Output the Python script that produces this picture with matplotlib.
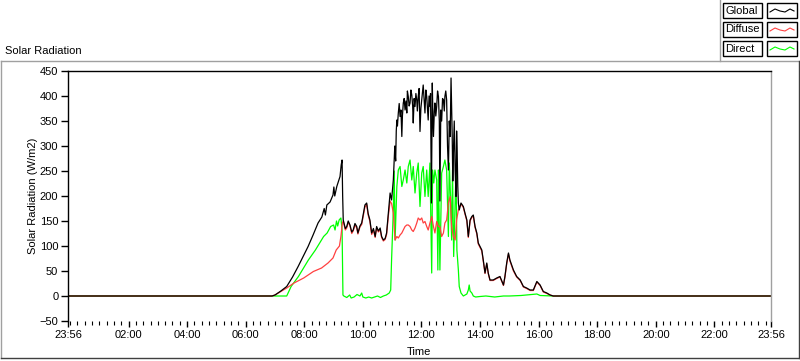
import matplotlib
matplotlib.use("Agg")
import matplotlib.pyplot as plt
from matplotlib.lines import Line2D
from matplotlib.patches import Rectangle

plt.rcParams['font.family'] = ['Liberation Sans', 'DejaVu Sans']
plt.rcParams['font.size'] = 8

# time in hours after midnight, axis runs 23:56 -> 23:56
t_start = -4 / 60
t_end = 24 - 4 / 60

# global radiation, split in morning / noon / afternoon parts
global_am_t = [t_start, 6.90, 7.00, 7.20, 7.40, 7.60, 7.79, 7.95, 8.13, 8.30, 8.47, 8.60, 8.68, 8.72, 8.77,
               8.88, 8.98, 9.01, 9.04, 9.11, 9.22, 9.26, 9.29, 9.31, 9.33, 9.40, 9.45, 9.50, 9.56, 9.62,
               9.67, 9.73, 9.79, 9.83, 9.90, 9.96, 10.02, 10.07, 10.13, 10.18, 10.24, 10.30, 10.36, 10.42,
               10.47, 10.53, 10.59, 10.64, 10.70, 10.76, 10.81, 10.87, 10.93, 10.98]
global_am_v = [0, 0, 2, 10, 19, 38, 59, 78, 99, 122, 146, 158, 175, 162, 182,
               188, 202, 218, 200, 219, 239, 262, 272, 200, 152, 135, 139, 150, 142, 128,
               132, 145, 139, 126, 140, 146, 165, 182, 186, 165, 152, 126, 135, 119,
               139, 130, 136, 119, 112, 115, 126, 166, 206, 192]

global_noon_t = [11.04, 11.07, 11.09, 11.10, 11.12, 11.14, 11.16, 11.18, 11.21, 11.24,
                 11.27, 11.30, 11.33, 11.35, 11.38, 11.41, 11.44, 11.47, 11.50, 11.52,
                 11.55, 11.58, 11.61, 11.64, 11.67, 11.70, 11.72, 11.75, 11.78, 11.81,
                 11.84, 11.86, 11.89, 11.92, 11.95, 11.98, 12.01, 12.03, 12.06, 12.09,
                 12.12, 12.15, 12.18, 12.20, 12.23, 12.26, 12.29, 12.31, 12.34, 12.37,
                 12.39, 12.41, 12.44, 12.46, 12.49, 12.52, 12.55, 12.58, 12.61, 12.63,
                 12.66, 12.69, 12.72, 12.75, 12.78, 12.80, 12.83, 12.86, 12.89, 12.92,
                 12.95, 12.98, 13.01, 13.03, 13.05, 13.07, 13.09, 13.12, 13.15, 13.18,
                 13.20, 13.22, 13.24, 13.26, 13.29]
global_noon_v = [232, 272, 300, 286, 270, 330, 352, 340, 366, 385,
                 359, 372, 319, 360, 386, 395, 372, 390, 366, 410,
                 399, 380, 386, 412, 402, 380, 346, 395, 379, 405,
                 392, 370, 399, 415, 329, 375, 392, 405, 422, 395,
                 366, 412, 399, 380, 352, 400, 379, 405, 186, 426,
                 360, 319, 370, 386, 360, 379, 410, 399, 350, 190,
                 372, 350, 395, 392, 370, 399, 410, 392, 300, 252,
                 350, 319, 436, 380, 319, 230, 286, 350, 252, 199,
                 330, 286, 220, 186, 172]

global_pm_t = [13.35, 13.43, 13.49, 13.55, 13.60, 13.66, 13.72, 13.77, 13.83, 13.89,
               13.94, 14.00, 14.06, 14.11, 14.17, 14.23, 14.28, 14.34, 14.45, 14.57,
               14.68, 14.80, 14.85, 14.91, 14.97, 15.02, 15.08, 15.14, 15.25, 15.37,
               15.48, 15.59, 15.71, 15.82, 15.94, 16.05, 16.16, 16.28, 16.39, 16.50, t_end]
global_pm_v = [186, 179, 165, 152, 119, 152, 159, 162, 139, 126,
               106, 99, 92, 72, 46, 66, 46, 32, 32, 36,
               39, 22, 39, 66, 86, 72, 62, 52, 39, 32,
               19, 16, 12, 12, 29, 22, 9, 6, 2, 0, 0]

diffuse_t = [t_start, 6.90, 7.00, 7.40, 7.65, 7.98, 8.31, 8.59, 8.81, 8.98, 9.09, 9.20, 9.25, 9.30, 9.33,
             9.40, 9.45, 9.50, 9.56, 9.62, 9.67, 9.73, 9.79, 9.83, 9.90, 9.96, 10.02, 10.07, 10.13,
             10.18, 10.24, 10.30, 10.36, 10.42, 10.47, 10.53, 10.59, 10.64, 10.70, 10.76, 10.81, 10.87,
             10.93, 10.98, 11.04, 11.10, 11.16, 11.21, 11.27, 11.33, 11.38, 11.44, 11.50, 11.55, 11.61,
             11.67, 11.72, 11.78, 11.84, 11.89, 11.95, 12.01, 12.06, 12.12, 12.18, 12.23, 12.29, 12.35,
             12.41, 12.46, 12.52, 12.58, 12.63, 12.69, 12.75, 12.80, 12.86, 12.92, 12.98, 13.03, 13.09,
             13.15, 13.20, 13.26, 13.31, 13.35, 13.43, 13.49, 13.55, 13.60, 13.66, 13.72, 13.77, 13.83,
             13.89, 13.94, 14.00, 14.06, 14.11, 14.17, 14.23, 14.28, 14.34, 14.45, 14.57, 14.68, 14.80,
             14.85, 14.91, 14.97, 15.02, 15.08, 15.14, 15.25, 15.37, 15.48, 15.59, 15.71, 15.82, 15.94,
             16.05, 16.16, 16.28, 16.39, 16.50, t_end]
diffuse_v = [0, 0, 2, 16, 26, 36, 49, 56, 66, 76, 92, 100, 119, 146, 150,
             132, 136, 148, 140, 125, 130, 142, 136, 124, 138, 143, 162, 178, 183,
             162, 149, 123, 132, 117, 136, 128, 133, 117, 110, 113, 123, 160,
             190, 185, 166, 112, 119, 116, 122, 126, 132, 139, 142, 142, 139,
             132, 129, 136, 146, 156, 152, 156, 146, 149, 139, 132, 146, 159,
             139, 126, 149, 139, 139, 119, 126, 146, 152, 186, 199, 139, 119,
             112, 152, 172, 179, 184, 177, 163, 150, 117, 150, 157, 160, 137,
             124, 104, 97, 90, 70, 45, 64, 45, 31, 31, 35, 38, 21,
             38, 64, 84, 70, 60, 50, 38, 31, 18, 15, 11, 11, 28,
             21, 8, 5, 2, 0, 0]

direct_t = [t_start, 7.40, 7.55, 7.80, 8.14, 8.38, 8.66, 8.78, 8.90, 9.00, 9.05, 9.10, 9.14, 9.19, 9.25,
            9.29, 9.32, 9.35, 9.45, 9.55, 9.60, 9.70, 9.80, 9.90, 9.96, 10.00, 10.10, 10.20, 10.30,
            10.40, 10.50, 10.60, 10.70, 10.80, 10.90, 10.95, 10.98, 11.04, 11.07, 11.10, 11.16, 11.21,
            11.27, 11.33, 11.38, 11.44, 11.50, 11.55, 11.61, 11.67, 11.72, 11.78, 11.84, 11.89, 11.95,
            12.01, 12.06, 12.12, 12.18, 12.23, 12.29, 12.35, 12.38, 12.42, 12.46, 12.52, 12.56, 12.58,
            12.61, 12.63, 12.69, 12.75, 12.80, 12.86, 12.92, 12.95, 13.00, 13.03, 13.06, 13.10, 13.15,
            13.18, 13.21, 13.26, 13.29, 13.35, 13.43, 13.55, 13.60, 13.63, 13.66, 13.72, 13.77, 13.85,
            14.00, 14.20, 14.50, 14.80, 15.00, 15.40, 15.94, 16.05, 16.50, t_end]
direct_v = [0, 0, 19, 39, 72, 92, 119, 126, 139, 142, 132, 150, 140, 152, 156,
            132, 2, 0, -3, 2, -4, -2, 3, 0, 6, -2, -4, -2, -4,
            -2, 0, -3, 0, 2, 6, 12, 72, 172, 250, 112, 219, 252,
            259, 219, 232, 252, 226, 259, 272, 232, 259, 206, 246, 266, 179,
            246, 259, 199, 252, 199, 266, 46, 252, 226, 252, 232, 52, 252,
            132, 52, 246, 259, 272, 252, 119, 266, 186, 112, 252, 79, 186,
            252, 92, 52, 19, 6, 0, 4, 12, 22, 10, 6, 0, -2,
            -1, 0, -2, 0, 0, 1, 4, 1, 0, 0]

global_t = global_am_t + global_noon_t + global_pm_t
global_v = global_am_v + global_noon_v + global_pm_v

major_ticks = [t_start] + list(range(2, 23, 2)) + [t_end]
major_labels = ['23:56'] + ['%02d:00' % h for h in range(2, 23, 2)] + ['23:56']
minor_ticks = [q / 4 for q in range(0, 96)]
y_ticks = list(range(-50, 451, 50))

W, H = 800, 361


def px(x, y):
    return x / W, 1 - y / H


fig = plt.figure(figsize=(8, 3.61), dpi=100)
ax = fig.add_axes([68 / W, 1 - 321 / H, 703 / W, 250 / H])

ax.plot(direct_t, direct_v, color='#00ff00', lw=0.9)
ax.plot(diffuse_t, diffuse_v, color='#ff4040', lw=0.9)
ax.plot(global_t, global_v, color='black', lw=0.9)

ax.set_xlim(t_start, t_end)
ax.set_ylim(-50, 450)
ax.set_yticks(y_ticks)
ax.set_xticks(major_ticks)
ax.set_xticklabels(major_labels)
ax.set_xticks(minor_ticks, minor=True)
ax.tick_params(axis='y', direction='out', length=5, width=1, pad=2, labelsize=8)
ax.tick_params(axis='x', which='major', direction='out', length=4.5, width=1, pad=2, labelsize=8)
ax.tick_params(axis='x', which='minor', direction='out', length=3, width=0.8)

ax.spines['left'].set_color('black')
ax.spines['top'].set_color('black')
ax.spines['right'].set_color('#a0a0a0')
ax.spines['bottom'].set_visible(False)
for s in ax.spines.values():
    s.set_linewidth(1)

# y label, x label and title
fig.text(*px(33, 196), 'Solar Radiation (W/m2)', rotation=90, ha='center', va='center', fontsize=8)
fig.text(*px(419, 352), 'Time', ha='center', va='center', fontsize=8)
fig.text(*px(5, 51), 'Solar Radiation', ha='left', va='center', fontsize=8)

# outer frame
frame = [((1, 61), (799, 61), '#a0a0a0'), ((1, 61), (1, 358), '#a0a0a0'),
         ((1, 358), (799, 358), '#404040'), ((799, 61), (799, 358), '#404040'),
         ((720, 0), (720, 61), '#a0a0a0')]
for (x0, y0), (x1, y1), c in frame:
    a, b = px(x0, y0)
    cc, d = px(x1, y1)
    fig.add_artist(Line2D([a, cc], [b, d], color=c, lw=1, transform=fig.transFigure))

# legend boxes
legend_items = [('Global', 'black'), ('Diffuse', '#ff4040'), ('Direct', '#00ff00')]
for i, (name, c) in enumerate(legend_items):
    top = 3 + i * 19
    x0, y0 = px(723, top + 15)
    fig.add_artist(Rectangle((x0, y0), 39 / W, 15 / H, fill=False, ec='black', lw=1,
                             transform=fig.transFigure))
    x0, y0 = px(767, top + 15)
    fig.add_artist(Rectangle((x0, y0), 30 / W, 15 / H, fill=False, ec='black', lw=1,
                             transform=fig.transFigure))
    fig.text(*px(725, top + 7.5), name, ha='left', va='center', fontsize=8)
    sx = [770, 775, 780, 785, 790, 794]
    sy = [top + 9, top + 6, top + 8, top + 9, top + 6, top + 8]
    pts = [px(a, b) for a, b in zip(sx, sy)]
    fig.add_artist(Line2D([p[0] for p in pts], [p[1] for p in pts], color=c, lw=0.8,
                          transform=fig.transFigure))

fig.savefig('out.png', dpi=100)
